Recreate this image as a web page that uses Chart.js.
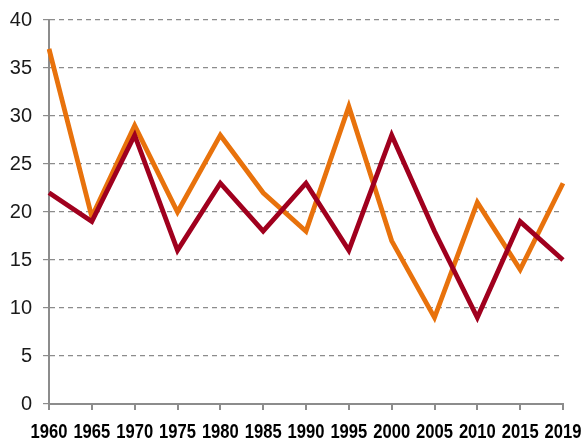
<!DOCTYPE html>
<html>
<head>
<meta charset="utf-8">
<script src="https://cdn.jsdelivr.net/npm/chart.js@4/dist/chart.umd.min.js"></script>
<style>
  html, body { margin: 0; padding: 0; background: #fff; }
  #wrap { width: 585px; height: 443px; position: relative; }
</style>
</head>
<body>
<div id="wrap"><canvas id="c" width="585" height="443"></canvas></div>
<script>
const years = ["1960","1965","1970","1975","1980","1985","1990","1995","2000","2005","2010","2015","2019"];
const orangeSeries = [37, 19.5, 29, 20, 28, 22, 18, 31, 17, 9, 21, 14, 23];
const redSeries = [22, 19, 28, 16, 23, 18, 23, 16, 28, 18, 9, 19, 15];
const yTicks = [0, 5, 10, 15, 20, 25, 30, 35, 40];

const ORANGE = "#E8720C";
const RED = "#A0001E";
const GRID = "#8c8c8c";

// Draw x tick labels in a horizontally condensed bold face (like Arial Narrow Bold)
const narrowLabels = {
  id: "narrowLabels",
  afterDraw(chart) {
    const ctx = chart.ctx;
    const xs = chart.scales.x;
    const baseY = chart.chartArea.bottom + 34;
    const sx = 0.79;
    ctx.save();
    ctx.font = "bold 21px 'Liberation Sans', Arial, sans-serif";
    ctx.fillStyle = "#000";
    ctx.textAlign = "center";
    ctx.textBaseline = "alphabetic";
    xs.ticks.forEach((t, i) => {
      const px = xs.getPixelForTick(i);
      ctx.save();
      ctx.translate(px, baseY);
      ctx.scale(sx, 1);
      ctx.fillText(String(xs.getLabelForValue(t.value)), 0, 0);
      ctx.restore();
    });
    ctx.restore();
  }
};

new Chart(document.getElementById("c"), {
  type: "line",
  data: {
    labels: years,
    datasets: [
      { label: "B", data: redSeries, borderColor: RED, backgroundColor: RED,
        borderWidth: 4.8, pointRadius: 0, tension: 0, fill: false },
      { label: "A", data: orangeSeries, borderColor: ORANGE, backgroundColor: ORANGE,
        borderWidth: 4.8, pointRadius: 0, tension: 0, fill: false }
    ]
  },
  plugins: [narrowLabels],
  options: {
    responsive: false,
    animation: false,
    devicePixelRatio: 1,
    layout: { padding: { top: 20, right: 22, left: 0, bottom: 0 } },
    plugins: { legend: { display: false }, tooltip: { enabled: false } },
    scales: {
      x: {
        offset: false,
        afterFit: (s) => { s.height = 39; },
        grid: { display: true, drawOnChartArea: false, drawTicks: true, tickLength: 6,
                color: GRID, lineWidth: 2 },
        border: { display: true, color: GRID, width: 2 },
        ticks: {
          autoSkip: false, maxRotation: 0, minRotation: 0, padding: 6,
          color: "rgba(0,0,0,0)",
          font: { family: "'Liberation Sans', Arial", size: 10, weight: "bold" }
        }
      },
      y: {
        min: 0, max: 40,
        afterFit: (s) => { s.width = 49; s.paddingTop = 0; s.paddingBottom = 0; },
        afterBuildTicks: (s) => { s.ticks = yTicks.map(v => ({ value: v })); },
        grid: { color: GRID, lineWidth: 1.2, tickLength: 6, tickColor: GRID,
                tickBorderDash: [5, 4] },
        border: { display: true, color: GRID, width: 2, dash: [5, 4] },
        ticks: {
          stepSize: 5, padding: 11, color: "#1a1a1a",
          font: { family: "'Liberation Sans', Arial", size: 20 }
        }
      }
    }
  }
});
</script>
</body>
</html>
